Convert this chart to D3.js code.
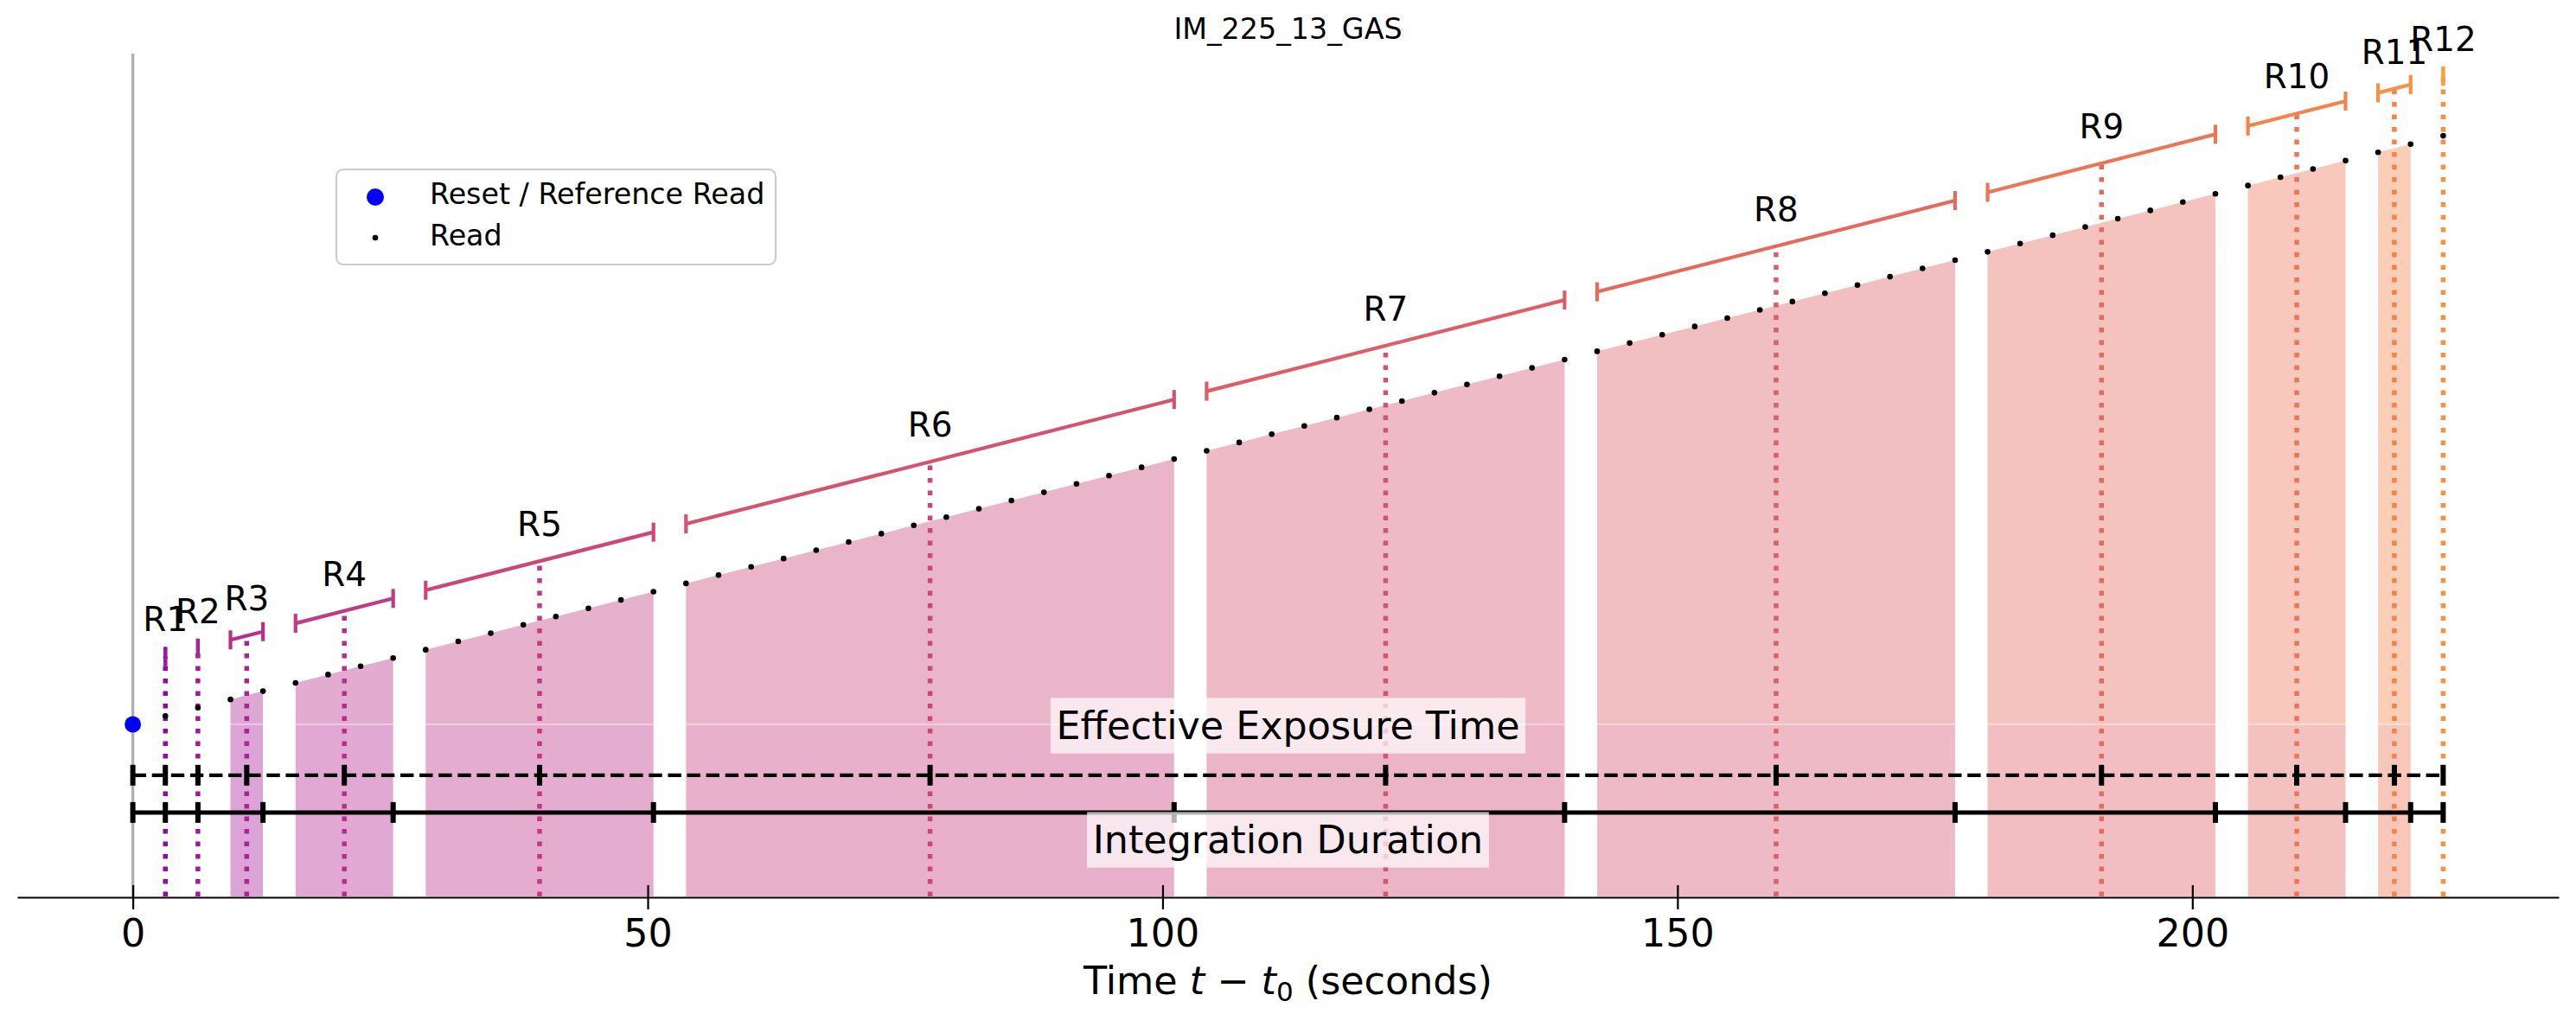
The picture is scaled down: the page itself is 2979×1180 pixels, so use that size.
<!DOCTYPE html>
<html>
<head>
<meta charset="utf-8">
<script src="https://cdn.jsdelivr.net/npm/d3@7"></script>
<style>
  body { margin: 0; background: #fff; }
  svg { display: block; font-family: "DejaVu Sans", sans-serif; }
</style>
</head>
<body>
<div id="chart"></div>
<script>
// read times of the ramp (seconds since reset)
var readTimes = [3.16, 6.32, 9.48, 12.64, 15.80, 18.96, 22.12, 25.28, 28.44, 31.60,
  34.76, 37.92, 41.08, 44.24, 47.40, 50.56, 53.72, 56.88, 60.04, 63.20,
  66.36, 69.52, 72.68, 75.84, 79.00, 82.16, 85.32, 88.48, 91.64, 94.80,
  97.96, 101.12, 104.28, 107.44, 110.60, 113.76, 116.92, 120.08, 123.24, 126.40,
  129.56, 132.72, 135.88, 139.04, 142.20, 145.36, 148.52, 151.68, 154.84, 158.00,
  161.16, 164.32, 167.48, 170.64, 173.80, 176.96, 180.12, 183.28, 186.44, 189.60,
  192.76, 195.92, 199.08, 202.24, 205.40, 208.56, 211.72, 214.88, 218.04, 221.20,
  224.36];

// resultants: first and last read number (1-based) of each group
var resultantLabels = ['R1', 'R2', 'R3', 'R4', 'R5', 'R6', 'R7', 'R8', 'R9', 'R10', 'R11', 'R12'];
var resultantFirst = [1, 2, 3, 5, 9, 17, 33, 45, 57, 65, 69, 71];
var resultantLast = [1, 2, 4, 8, 16, 32, 44, 56, 64, 68, 70, 71];

var resetTime = 0;
var resetSignal = 0;
var xTicks = [0, 50, 100, 150, 200];
var legendLabels = ['Reset / Reference Read', 'Read'];
var titleText = 'IM_225_13_GAS';

var width = 2979, height = 1180;

var x = d3.scaleLinear().domain([-11.22, 235.58]).range([20, 2959]);
var y = d3.scaleLinear().domain([-65.6, 255.7]).range([1037, 62]);
var bottom = y(-65.6);

var bracketOffset = 22.7,   // signal units above the ramp
    capHalf = 11,
    labelGap = 29,
    effY = y(-19.4),
    intY = y(-33.6);

var svg = d3.select('#chart').append('svg')
  .attr('width', width)
  .attr('height', height);

svg.append('rect').attr('width', width).attr('height', height).attr('fill', '#fff');

var resultants = resultantLabels.map(function (lab, i) {
  var reads = readTimes.slice(resultantFirst[i] - 1, resultantLast[i]);
  return {
    label: lab,
    reads: reads,
    first: reads[0],
    last: reads[reads.length - 1],
    mean: d3.mean(reads),
    color: d3.interpolatePlasma(0.34 + 0.04 * i),
    color2: d3.interpolatePlasma(0.30 + 0.04 * i)
  };
});
var tEnd = readTimes[readTimes.length - 1];

// gray line at t = 0
svg.append('line')
  .attr('x1', x(0)).attr('x2', x(0))
  .attr('y1', y.range()[1]).attr('y2', bottom)
  .attr('stroke', '#b0b0b0').attr('stroke-width', 3.4);

// shaded ramps
var area = d3.area()
  .x(function (d) { return x(d); })
  .y0(bottom)
  .y1(function (d) { return y(d); });

var bars = svg.append('g');
resultants.forEach(function (r) {
  if (r.reads.length < 2) return;
  bars.append('path')
    .attr('d', area(r.reads))
    .attr('fill', r.color2)
    .attr('fill-opacity', 0.4);
  bars.append('rect')
    .attr('x', x(r.first)).attr('width', x(r.last) - x(r.first))
    .attr('y', y(resetSignal)).attr('height', bottom - y(resetSignal))
    .attr('fill', 'rgb(200,100,255)').attr('fill-opacity', 0.05);
  bars.append('line')
    .attr('x1', x(r.first)).attr('x2', x(r.last))
    .attr('y1', y(resetSignal)).attr('y2', y(resetSignal))
    .attr('stroke', '#fff').attr('stroke-opacity', 0.5).attr('stroke-width', 1.5);
});

// dotted lines at resultant mean times
resultants.forEach(function (r) {
  svg.append('line')
    .attr('x1', x(r.mean)).attr('x2', x(r.mean))
    .attr('y1', bottom).attr('y2', y(r.mean + bracketOffset))
    .attr('stroke', r.color2).attr('stroke-width', 5.5)
    .attr('stroke-dasharray', '5.5 9');
});

// brackets
resultants.forEach(function (r) {
  var g = svg.append('g').attr('stroke', r.color).attr('stroke-width', 4.2);
  g.append('line')
    .attr('x1', x(r.first)).attr('y1', y(r.first + bracketOffset))
    .attr('x2', x(r.last)).attr('y2', y(r.last + bracketOffset));
  [r.first, r.last].forEach(function (t) {
    g.append('line')
      .attr('x1', x(t)).attr('x2', x(t))
      .attr('y1', y(t + bracketOffset) - capHalf)
      .attr('y2', y(t + bracketOffset) + capHalf);
  });
  svg.append('text')
    .attr('x', x(r.mean))
    .attr('y', y(r.mean + bracketOffset) - labelGap)
    .attr('text-anchor', 'middle')
    .attr('font-size', '38.9px')
    .attr('fill', '#000')
    .text(r.label);
});

// reads
svg.append('g').selectAll('circle')
  .data(readTimes)
  .enter().append('circle')
  .attr('cx', function (d) { return x(d); })
  .attr('cy', function (d) { return y(d); })
  .attr('r', 3.3)
  .attr('fill', '#000');

svg.append('circle')
  .attr('cx', x(resetTime)).attr('cy', y(resetSignal))
  .attr('r', 9.5).attr('fill', '#0000ff');

// effective exposure / integration duration lines
svg.append('line')
  .attr('x1', x(0)).attr('x2', x(tEnd))
  .attr('y1', effY).attr('y2', effY)
  .attr('stroke', '#000').attr('stroke-width', 4.2)
  .attr('stroke-dasharray', '15.4 6.7');
svg.append('g').selectAll('rect')
  .data([0].concat(resultants.map(function (r) { return r.mean; })))
  .enter().append('rect')
  .attr('x', function (d) { return x(d) - 3; })
  .attr('y', effY - 12)
  .attr('width', 6).attr('height', 24)
  .attr('fill', '#000');

svg.append('line')
  .attr('x1', x(0)).attr('x2', x(tEnd))
  .attr('y1', intY).attr('y2', intY)
  .attr('stroke', '#000').attr('stroke-width', 5);
svg.append('g').selectAll('rect')
  .data([0].concat(resultants.map(function (r) { return r.last; })))
  .enter().append('rect')
  .attr('x', function (d) { return x(d) - 3; })
  .attr('y', intY - 12)
  .attr('width', 6).attr('height', 24)
  .attr('fill', '#000');

function boxedText(label, cx, baseline) {
  var g = svg.append('g');
  var bg = g.append('rect');
  var t = g.append('text')
    .attr('x', cx).attr('y', baseline)
    .attr('text-anchor', 'middle')
    .attr('font-size', '44.4px')
    .attr('fill', '#000')
    .text(label);
  var bb = t.node().getBBox(), pad = 6.6;
  bg.attr('x', bb.x - pad).attr('y', bb.y - pad)
    .attr('width', bb.width + 2 * pad).attr('height', bb.height + 2 * pad)
    .attr('fill', '#fff').attr('fill-opacity', 0.7);
}
boxedText('Effective Exposure Time', x(tEnd / 2), 855);
boxedText('Integration Duration', x(tEnd / 2), 987);

// x axis
var axis = svg.append('g')
  .attr('transform', 'translate(0,1038)')
  .call(d3.axisBottom(x).tickValues(xTicks).tickSizeOuter(0).tickFormat(d3.format('d')));
axis.select('.domain').attr('stroke-width', 2.2);
axis.selectAll('.tick line').attr('y1', -14).attr('y2', 14).attr('stroke-width', 2.2);
axis.selectAll('.tick text')
  .attr('y', 57).attr('dy', 0)
  .attr('font-size', '44.4px')
  .attr('font-family', '"DejaVu Sans", sans-serif')
  .attr('fill', '#000');

var xl = svg.append('text')
  .attr('x', (x.range()[0] + x.range()[1]) / 2)
  .attr('y', 1150)
  .attr('text-anchor', 'middle')
  .attr('font-size', '44.4px');
xl.append('tspan').text('Time ');
xl.append('tspan').attr('font-style', 'italic').text('t');
xl.append('tspan').text(' \u2212 ');
xl.append('tspan').attr('font-style', 'italic').text('t');
xl.append('tspan').attr('font-size', '31px').attr('dy', 8).text('0');
xl.append('tspan').attr('dy', -8).text(' (seconds)');

// title
svg.append('text')
  .attr('x', (x.range()[0] + x.range()[1]) / 2)
  .attr('y', 45)
  .attr('text-anchor', 'middle')
  .attr('font-size', '33.3px')
  .text(titleText);

// legend
var leg = svg.append('g');
leg.append('rect')
  .attr('x', 389).attr('y', 196)
  .attr('width', 508).attr('height', 110)
  .attr('rx', 8)
  .attr('fill', '#fff').attr('fill-opacity', 0.8)
  .attr('stroke', '#cccccc').attr('stroke-width', 2.2);
leg.append('circle').attr('cx', 434).attr('cy', 228).attr('r', 10).attr('fill', '#0000ff');
leg.append('circle').attr('cx', 434).attr('cy', 275).attr('r', 3.3).attr('fill', '#000');
legendLabels.forEach(function (lab, i) {
  leg.append('text')
    .attr('x', 497).attr('y', 236 + i * 48)
    .attr('font-size', '33.3px')
    .text(lab);
});
</script>
</body>
</html>
